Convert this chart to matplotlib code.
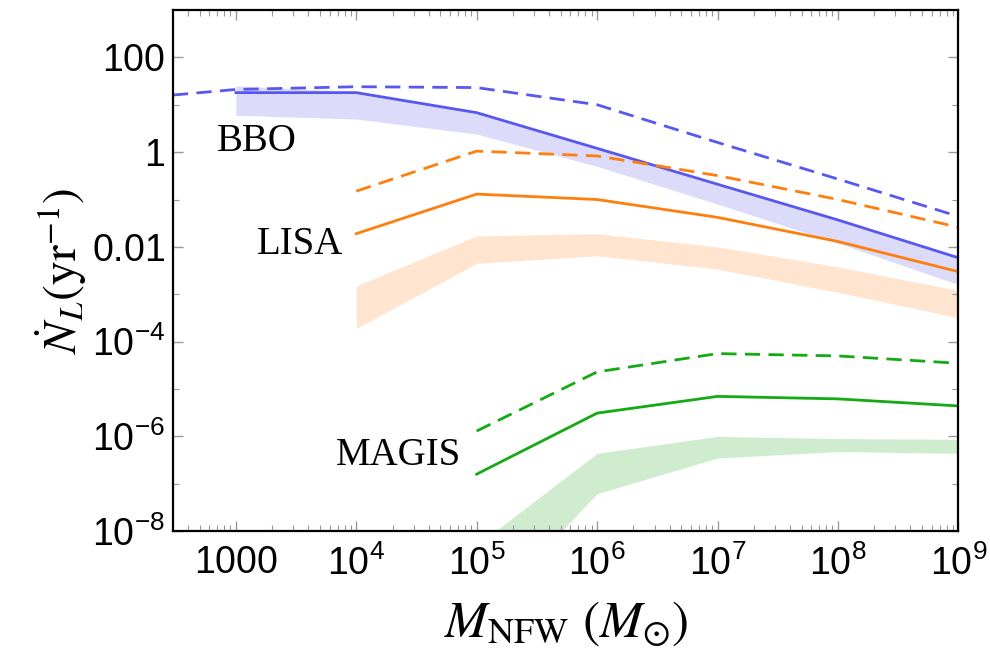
import numpy as np
import matplotlib
matplotlib.use("Agg")
import matplotlib.pyplot as plt
from matplotlib.ticker import FixedLocator, FixedFormatter, LogLocator, NullFormatter

plt.rcParams['font.family'] = ['Liberation Sans', 'DejaVu Sans']
plt.rcParams['mathtext.fontset'] = 'custom'
plt.rcParams['mathtext.rm'] = 'Liberation Sans'
plt.rcParams['mathtext.it'] = 'Liberation Sans:italic'

# halo masses
x_bbo_dash = [3e2, 1e3, 1e4, 1e5, 1e6, 1e7, 1e8, 1e9]
x_bbo = [1e3, 1e4, 1e5, 1e6, 1e7, 1e8, 1e9]
x_lisa = [1e4, 1e5, 1e6, 1e7, 1e8, 1e9]
x_magis = [1e5, 1e6, 1e7, 1e8, 1e9]

# BBO
bbo_dash = [16, 21, 24, 23, 10, 1.6, 0.27, 0.044]
bbo_solid = [18, 18, 6.8, 1.2, 0.21, 0.037, 0.0059]
bbo_hi = [25, 19, 7.0, 1.3, 0.22, 0.040, 0.0062]
bbo_lo = [6, 5, 2.4, 0.5, 0.08, 0.012, 0.0016]

# LISA
lisa_dash = [0.15, 1.05, 0.83, 0.32, 0.10, 0.026]
lisa_solid = [0.019, 0.13, 0.10, 0.042, 0.013, 0.003]
lisa_hi = [0.0015, 0.017, 0.019, 0.010, 0.0038, 0.0012]
lisa_lo = [1.9e-4, 0.0045, 0.0065, 0.0034, 0.0011, 3.2e-4]

# MAGIS
magis_dash = [1.3e-6, 2.3e-5, 5.6e-5, 5.0e-5, 3.5e-5]
magis_solid = [1.6e-7, 3.1e-6, 7e-6, 6.2e-6, 4.4e-6]
magis_hi = [5e-9, 4.4e-7, 1.0e-6, 9e-7, 8.7e-7]
magis_lo = [1.3e-10, 6.2e-8, 3.5e-7, 4.8e-7, 4.4e-7]

xticks = [1e3, 1e4, 1e5, 1e6, 1e7, 1e8, 1e9]
xticklabels = ['$\\mathrm{1000}$', '$\\mathrm{10^{4}}$', '$\\mathrm{10^{5}}$', '$\\mathrm{10^{6}}$',
               '$\\mathrm{10^{7}}$', '$\\mathrm{10^{8}}$', '$\\mathrm{10^{9}}$']
yticks = [1e-8, 1e-6, 1e-4, 1e-2, 1, 100]
yticklabels = ['$\\mathrm{10^{-8}}$', '$\\mathrm{10^{-6}}$', '$\\mathrm{10^{-4}}$',
               '$\\mathrm{0.01}$', '$\\mathrm{1}$', '$\\mathrm{100}$']

blue = '#5858f0'
orange = '#ff7f0e'
green = '#14aa14'

fig = plt.figure(figsize=(9.9, 6.64), dpi=100)
ax = fig.add_axes([0.175, 0.2, 0.793, 0.785])

lw = 2.0
dash = (0, (5.5, 3))
ax.fill_between(x_bbo, bbo_lo, bbo_hi, color='#dcdcfa', lw=0)
ax.fill_between(x_lisa, lisa_lo, lisa_hi, color='#ffe4cf', lw=0)
ax.fill_between(x_magis, magis_lo, magis_hi, color='#cfeccf', lw=0)

ax.plot(x_bbo_dash, bbo_dash, color=blue, lw=lw, ls=dash)
ax.plot(x_bbo, bbo_solid, color=blue, lw=lw)
ax.plot(x_lisa, lisa_dash, color=orange, lw=lw, ls=dash)
ax.plot(x_lisa, lisa_solid, color=orange, lw=lw)
ax.plot(x_magis, magis_dash, color=green, lw=lw, ls=dash)
ax.plot(x_magis, magis_solid, color=green, lw=lw)

ax.set_xscale('log')
ax.set_yscale('log')
ax.set_xlim(10**2.48, 1e9)
ax.set_ylim(1e-8, 1e3)

ax.xaxis.set_major_locator(FixedLocator(xticks))
ax.xaxis.set_major_formatter(FixedFormatter(xticklabels))
ax.xaxis.set_minor_locator(LogLocator(base=10, subs=np.arange(2, 10), numticks=20))
ax.xaxis.set_minor_formatter(NullFormatter())
ax.yaxis.set_major_locator(FixedLocator(yticks))
ax.yaxis.set_major_formatter(FixedFormatter(yticklabels))
ax.yaxis.set_minor_locator(FixedLocator([1e-7, 1e-5, 1e-3, 1e-1, 10]))
ax.yaxis.set_minor_formatter(NullFormatter())

ax.tick_params(which='both', direction='in', top=True, right=True, color='#999999',
               labelsize=27)
ax.tick_params(axis='x', which='major', pad=10)
ax.tick_params(axis='y', which='major', pad=6)
ax.tick_params(which='major', length=7, width=1)
ax.tick_params(which='minor', length=4, width=0.8)
for s in ax.spines.values():
    s.set_linewidth(1.6)

ax.set_xlabel(r'$M_{\mathrm{NFW}}\ (M_{\odot})$', fontsize=37, math_fontfamily='stix', labelpad=12)
ax.set_ylabel(r'$\dot{N}_L(\mathrm{yr}^{-1})$', fontsize=34, math_fontfamily='stix', labelpad=2)

ax.text(10**3.17, 10**0.22, 'BBO', fontsize=28, family='Liberation Serif', ha='center', va='center')
ax.text(10**3.53, 10**-1.95, 'LISA', fontsize=28, family='Liberation Serif', ha='center', va='center')
ax.text(10**4.35, 10**-6.4, 'MAGIS', fontsize=28, family='Liberation Serif', ha='center', va='center')

fig.savefig('out.png', dpi=100)
